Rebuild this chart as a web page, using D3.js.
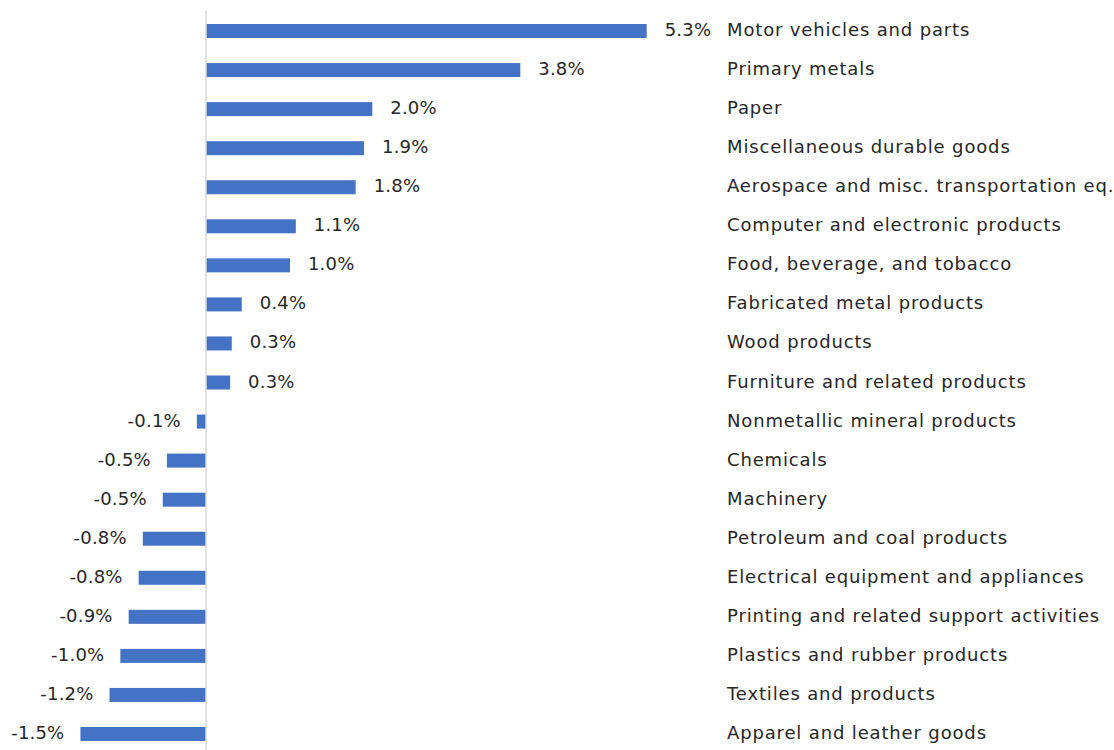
<!DOCTYPE html>
<html>
<head>
<meta charset="utf-8">
<script src="https://cdnjs.cloudflare.com/ajax/libs/d3/7.8.5/d3.min.js"></script>
<style>
  html, body { margin: 0; padding: 0; background: #fff; }
  svg { display: block; }
  .bar { fill: #4472c4; }
  .lbl { font-family: "DejaVu Sans", sans-serif; font-size: 18px; fill: #262626; }
  .cat { letter-spacing: 0.85px; }
  .val { letter-spacing: 0.2px; }
</style>
</head>
<body>
<script>
(function() {
    // categories (top to bottom)
    var categories = [
        "Motor vehicles and parts",
        "Primary metals",
        "Paper",
        "Miscellaneous durable goods",
        "Aerospace and misc. transportation eq.",
        "Computer and electronic products",
        "Food, beverage, and tobacco",
        "Fabricated metal products",
        "Wood products",
        "Furniture and related products",
        "Nonmetallic mineral products",
        "Chemicals",
        "Machinery",
        "Petroleum and coal products",
        "Electrical equipment and appliances",
        "Printing and related support activities",
        "Plastics and rubber products",
        "Textiles and products",
        "Apparel and leather goods"
    ];

    // percent change
    var values = [5.30, 3.78, 2.00, 1.90, 1.80, 1.08, 1.01, 0.43, 0.31, 0.29,
                  -0.11, -0.47, -0.52, -0.76, -0.81, -0.93, -1.03, -1.16, -1.51];

    var width = 1114, height = 750;
    // plain hyphen for negatives, like the source
    var fmt = d3.formatLocale({ decimal: ".", thousands: ",", grouping: [3], currency: ["", ""], minus: "-" }).format(".1f");

    var svg = d3.select("body").append("svg")
        .attr("width", width)
        .attr("height", height);

    // scales
    var x = d3.scaleLinear()
        .domain([-2, 6])
        .range([206 - 2 * 83.15, 206 + 6 * 83.15]);
    var y = d3.scalePoint()
        .domain(categories)
        .range([31, 734]);
    var barH = 14;

    var data = categories.map(function(c, i) {
        return { name: c, value: values[i] };
    });

    // bars
    svg.selectAll("rect.bar")
        .data(data)
        .enter()
            .append("rect")
            .classed("bar", true)
            .attr("x", function(d) { return Math.min(x(0), x(d.value)); })
            .attr("y", function(d) { return y(d.name) - barH / 2; })
            .attr("width", function(d) { return Math.abs(x(d.value) - x(0)); })
            .attr("height", barH);

    // zero axis line
    svg.append("line")
        .attr("x1", x(0)).attr("x2", x(0))
        .attr("y1", 11).attr("y2", height)
        .attr("stroke", "#d9d9d9")
        .attr("stroke-width", 1.5);

    // value labels
    svg.selectAll("text.val")
        .data(data)
        .enter()
            .append("text")
            .attr("class", "lbl val")
            .attr("x", function(d) { return d.value >= 0 ? x(d.value) + 18 : x(d.value) - 16; })
            .attr("y", function(d) { return y(d.name); })
            .attr("dy", "0.28em")
            .attr("text-anchor", function(d) { return d.value >= 0 ? "start" : "end"; })
            .text(function(d) { return fmt(d.value) + "%"; });

    // category labels
    svg.selectAll("text.cat")
        .data(data)
        .enter()
            .append("text")
            .attr("class", "lbl cat")
            .attr("x", 727)
            .attr("y", function(d) { return y(d.name); })
            .attr("dy", "0.28em")
            .text(function(d) { return d.name; });
})();
</script>
</body>
</html>
